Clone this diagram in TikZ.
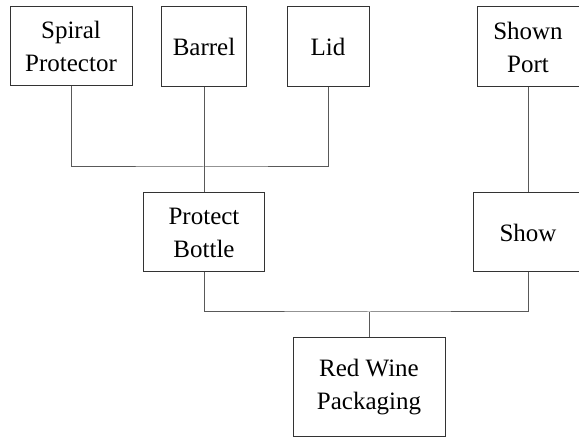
\documentclass[tikz,border=0pt]{standalone}
\usepackage{fontspec}
\setmainfont{Liberation Serif}
\begin{document}
\begin{tikzpicture}[x=1pt,y=1pt,
  box/.style={draw=black!80,line width=1pt,rectangle,inner sep=0pt,align=center,
    font=\fontsize{25}{33}\selectfont},
  link/.style={draw=black!65,line width=1pt}]
\useasboundingbox (0,0) rectangle (579,-438);
\node[box,minimum width=122,minimum height=79] (sp) at (71,-46.5) {Spiral\\Protector};
\node[box,minimum width=85,minimum height=80] (ba) at (204,-47) {Barrel};
\node[box,minimum width=82,minimum height=80] (li) at (328,-47) {Lid};
\node[box,minimum width=102,minimum height=80] (sh) at (528,-47) {Shown\\Port};
\node[box,minimum width=121,minimum height=79] (pb) at (204,-232.5) {Protect\\Bottle};
\node[box,minimum width=110,minimum height=79] (sw) at (528,-232.5) {Show};
\node[box,minimum width=152,minimum height=99] (rw) at (369,-387.5) {Red Wine\\Packaging};
\coordinate (j1) at (204,-167);
\coordinate (j2) at (369,-312);
\draw[link] (sp.south) |- (j1) -| (li.south);
\draw[link] (ba.south) -- (pb.north);
\draw[link] (sh.south) -- (sw.north);
\draw[link] (pb.south) |- (j2) -| (sw.south);
\draw[link] (rw.north) -- (j2);
\end{tikzpicture}
\end{document}
